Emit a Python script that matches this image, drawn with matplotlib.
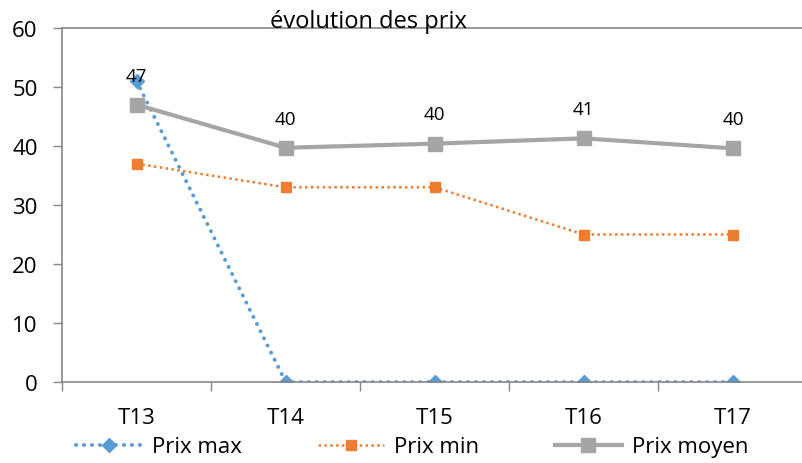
import numpy as np
import matplotlib.pyplot as plt
from matplotlib.ticker import FixedLocator

plt.rcParams['font.family'] = ['Open Sans', 'DejaVu Sans']

trimestres = ["T13", "T14", "T15", "T16", "T17"]
prix_max = [51, 0, 0, 0, 0]
prix_min = [37, 33, 33, 25, 25]
prix_moyen = [47, 39.7, 40.4, 41.3, 39.6]
labels_moyen = ["47", "40", "40", "41", "40"]

fig = plt.figure(figsize=(8.02, 4.64), dpi=100)
ax = fig.add_axes([62/802, 1-383/464, (807.5-62)/802, (383-29)/464])
x = np.arange(len(trimestres))

ax.plot(x, prix_max, color="#5B9BD5", lw=2.8, ls=(0, (0.05, 2.0)), dash_capstyle='round',
        marker='D', ms=7, label="Prix max")
ax.plot(x, prix_min, color="#ED7D31", lw=1.8, ls=(0, (1, 1.35)),
        marker='s', ms=7, label="Prix min")
ax.plot(x, prix_moyen, color="#A5A5A5", lw=3, marker='s', ms=9.5, label="Prix moyen")

for i, v in enumerate(prix_moyen):
    ax.annotate(labels_moyen[i], (x[i], v), xytext=(0, 21), textcoords='offset points',
                ha='center', va='center', fontsize=13.5)

ax.set_xlim(-0.5, 4.5)
ax.set_ylim(0, 60)
ax.set_yticks(range(0, 61, 10))
ax.set_xticks(x)
ax.set_xticklabels(trimestres)
ax.xaxis.set_minor_locator(FixedLocator(np.arange(-0.5, 4.6, 1)))
ax.tick_params(axis='x', which='major', length=0, pad=18, labelsize=16)
ax.tick_params(axis='x', which='minor', length=6.5, width=1, color='#868686', direction='out')
ax.tick_params(axis='y', length=6.5, width=1, color='#868686', pad=11, labelsize=16)

for s in ['left', 'bottom', 'top']:
    ax.spines[s].set_color('#868686')
    ax.spines[s].set_linewidth(1.2)
ax.spines['right'].set_visible(False)

fig.text(368/802, 1-28/464, "évolution des prix", ha='center', va='baseline', fontsize=17)

fig.legend(loc='center', bbox_to_anchor=(412/802, 1-448/464), ncol=3, frameon=False,
           fontsize=16, handlelength=3.0, columnspacing=3.4, handletextpad=0.45)

fig.savefig("out.png", dpi=100)
